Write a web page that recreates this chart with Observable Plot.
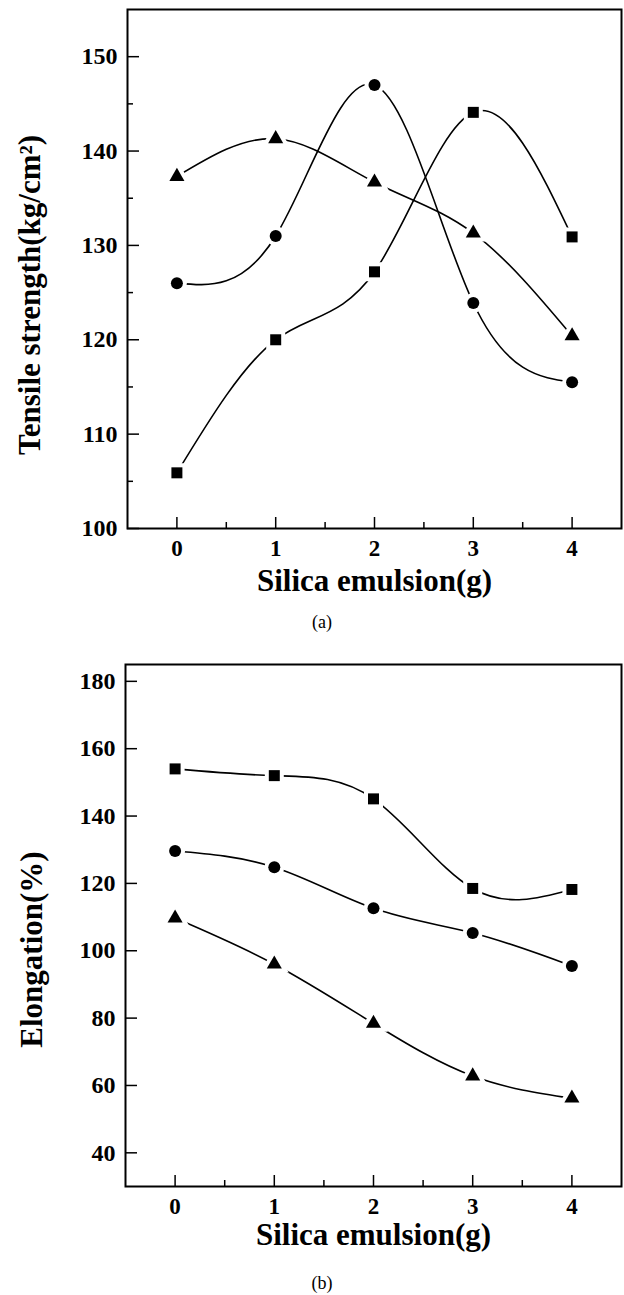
<!DOCTYPE html>
<html><head><meta charset="utf-8">
<script src="https://cdn.jsdelivr.net/npm/d3@7"></script>
<script src="https://cdn.jsdelivr.net/npm/@observablehq/plot@0.6"></script>
<style>
body{margin:0;background:#fff;width:624px;height:1295px;position:relative;overflow:hidden;font-family:"Liberation Serif","Times New Roman",serif;}
#a{position:absolute;left:0;top:0}
#b{position:absolute;left:0;top:640px}
.cap{position:absolute;width:624px;left:10px;text-align:center;font-size:18px;line-height:20px;color:#000;}
</style></head><body>
<div id="a"></div><div id="b"></div>
<div class="cap" style="top:612px">(a)</div>
<div class="cap" style="top:1273px">(b)</div>
<script>
const silica = [0, 1, 2, 3, 4];
const tensileSquare = [105.9, 120.0, 127.2, 144.1, 130.9];
const tensileCircle = [126.0, 131.0, 147.0, 123.9, 115.5];
const tensileTriangle = [137.3, 141.3, 136.7, 131.3, 120.4];
const elongSquare = [154.0, 152.0, 145.1, 118.5, 118.2];
const elongCircle = [129.6, 124.8, 112.6, 105.3, 95.5];
const elongTriangle = [109.7, 96.0, 78.4, 62.8, 56.2];
const xTicks = [0, 1, 2, 3, 4];
const xMinorTicks = [0.5, 1.5, 2.5, 3.5];
const tensileTicks = [100, 110, 120, 130, 140, 150];
const tensileMinor = [105, 115, 125, 135, 145];
const elongTicks = [40, 60, 80, 100, 120, 140, 160, 180];
const xTitle = "Silica emulsion(g)";
const tensileTitle = "Tensile strength(kg/cm²)";
const elongTitle = "Elongation(%)";

const FONT = "'Liberation Serif', 'Times New Roman', serif";

function chart({series, yDomain, yTicks, yMinor, yTitle, height, marginTop, marginBottom, marginLeft, xTitleDy, yTitleDx, yTitleDy}) {
  const marks = [
    Plot.frame({strokeWidth: 2}),
    Plot.axisX(xTicks, {tickSize: -11, tickFormat: () => "", label: null, strokeWidth: 1.5}),
    Plot.axisX(xMinorTicks, {tickSize: -6, tickFormat: () => "", label: null, strokeWidth: 1.5}),
    Plot.axisX(xTicks, {tickSize: 0, tickPadding: 11, label: null, fontSize: 23, fontWeight: "bold", fontFamily: FONT}),
    Plot.axisY(yTicks, {tickSize: -12, tickFormat: () => "", label: null, strokeWidth: 1.5}),
    Plot.axisY(yTicks, {tickSize: 0, tickPadding: 10, label: null, fontSize: 24, fontWeight: "bold", fontFamily: FONT}),
    Plot.text([xTitle], {frameAnchor: "bottom", dy: xTitleDy, fontSize: 31, fontWeight: "bold", fontFamily: FONT, textAnchor: "middle", lineAnchor: "middle"}),
    Plot.text([yTitle], {frameAnchor: "left", rotate: -90, dx: yTitleDx, dy: yTitleDy, fontSize: 31, fontWeight: "bold", fontFamily: FONT, textAnchor: "middle", lineAnchor: "middle"})
  ];
  if (yMinor) marks.push(Plot.axisY(yMinor, {tickSize: -6, tickFormat: () => "", label: null, strokeWidth: 1.5}));
  for (const s of series) {
    const data = silica.map((x, i) => ({x, y: s.values[i]}));
    marks.push(Plot.line(data, {x: "x", y: "y", curve: "natural", stroke: "#000", strokeWidth: 1.6}));
  }
  for (const s of series) {
    const data = silica.map((x, i) => ({x, y: s.values[i]}));
    marks.push(Plot.dot(data, {x: "x", y: "y", symbol: s.symbol, r: s.r, fill: "#000", stroke: "#fff", strokeWidth: 8, paintOrder: "stroke"}));
  }
  return Plot.plot({
    width: 624, height, marginTop, marginBottom, marginLeft, marginRight: 3,
    style: {fontFamily: FONT, fontWeight: "bold", fontSize: "23px", color: "#000", background: "#fff", overflow: "visible"},
    x: {domain: [-0.5, 4.5]},
    y: {domain: yDomain},
    marks
  });
}

document.getElementById("a").append(chart({
  series: [
    {values: tensileSquare, symbol: "square", r: 6.2},
    {values: tensileCircle, symbol: "circle", r: 6},
    {values: tensileTriangle, symbol: "triangle", r: 5.6}
  ],
  yDomain: [100, 155], yTicks: tensileTicks, yMinor: tensileMinor, yTitle: tensileTitle,
  height: 600, marginTop: 9, marginBottom: 72, marginLeft: 127,
  xTitleDy: 53, yTitleDx: -97, yTitleDy: 26
}));

document.getElementById("b").append(chart({
  series: [
    {values: elongSquare, symbol: "square", r: 6.2},
    {values: elongCircle, symbol: "circle", r: 6},
    {values: elongTriangle, symbol: "triangle", r: 5.6}
  ],
  yDomain: [30, 185], yTicks: elongTicks, yMinor: null, yTitle: elongTitle,
  height: 655, marginTop: 24, marginBottom: 109, marginLeft: 125,
  xTitleDy: 49, yTitleDx: -93, yTitleDy: 24
}));
</script>
</body></html>
